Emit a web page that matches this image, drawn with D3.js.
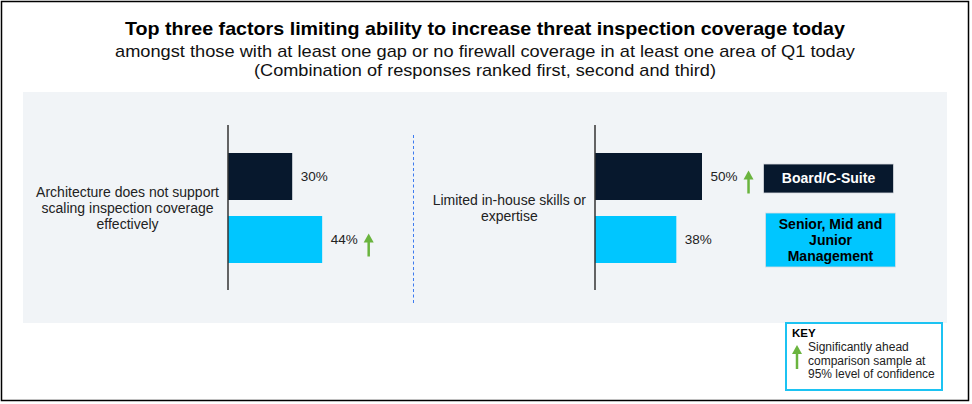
<!DOCTYPE html>
<head>
  <meta charset="utf-8">
  <script src="https://d3js.org/d3.v7.min.js"></script>
  <style>
    body { margin: 0; background: #fff; }
    * { font-family: "Liberation Sans", Arial, sans-serif; }
  </style>
</head>
<body>
  <svg width="972" height="404"></svg>
  <script>
    // data
    const titleLines = [
      "Top three factors limiting ability to increase threat inspection coverage today",
      "amongst those with at least one gap or no firewall coverage in at least one area of Q1 today",
      "(Combination of responses ranked first, second and third)"
    ];
    const categories = [
      "Architecture does not support scaling inspection coverage effectively",
      "Limited in-house skills or expertise"
    ];
    const categoryLines = [
      ["Architecture does not support", "scaling inspection coverage", "effectively"],
      ["Limited in-house skills or", "expertise"]
    ];
    const groups = ["Board/C-Suite", "Senior, Mid and Junior Management"];
    const groupLines = [["Board/C-Suite"], ["Senior, Mid and", "Junior", "Management"]];
    const boardValues = [30, 50];
    const seniorValues = [44, 38];
    const boardSignificant = [false, true];
    const seniorSignificant = [true, false];
    const keyLines = ["Significantly ahead", "comparison sample at", "95% level of confidence"];

    const colors = { board: "#07182d", senior: "#00c6ff", green: "#6ab43e", panel: "#f1f4f7" };
    const svg = d3.select("svg");

    // outer frame
    svg.append("rect").attr("x", 1.5).attr("y", 1.5).attr("width", 967).attr("height", 399)
      .attr("fill", "#fff").attr("stroke", "#000").attr("stroke-width", 1.5);

    // titles (reference face is a bit wider than Liberation, so fit the measured widths)
    const titleSpec = [
      { y: 35, size: 19, weight: "bold", w: 720, fill: "#000" },
      { y: 56.5, size: 17, weight: "normal", w: 740, fill: "#111" },
      { y: 76, size: 17, weight: "normal", w: 462, fill: "#111" }
    ];
    titleLines.forEach((t, i) => {
      const s = titleSpec[i];
      svg.append("text").attr("x", 485).attr("y", s.y).attr("text-anchor", "middle")
        .attr("font-size", s.size).attr("font-weight", s.weight).attr("fill", s.fill)
        .attr("textLength", s.w).attr("lengthAdjust", "spacingAndGlyphs").text(t);
    });

    // grey panel
    svg.append("rect").attr("x", 23).attr("y", 92).attr("width", 924).attr("height", 231)
      .attr("fill", colors.panel);

    const panelX = d3.scalePoint().domain(categories).range([228, 595]);
    const x = d3.scaleLinear().domain([0, 100]).range([0, 214]);
    const y = d3.scaleBand().domain(groups).range([153, 263]).paddingInner(0.254);

    // divider
    svg.append("line").attr("x1", 413.5).attr("x2", 413.5).attr("y1", 135).attr("y2", 303)
      .attr("stroke", "#3d7bf0").attr("stroke-width", 1).attr("stroke-dasharray", "3,2.5");

    function arrow(g, cx, top, bottom) {
      g.append("line").attr("x1", cx).attr("x2", cx).attr("y1", top + 7).attr("y2", bottom)
        .attr("stroke", colors.green).attr("stroke-width", 2.5);
      g.append("path").attr("d", `M${cx - 5},${top + 9}L${cx},${top}L${cx + 5},${top + 9}Z`)
        .attr("fill", colors.green);
    }

    categories.forEach((cat, i) => {
      const ax = panelX(cat);
      const g = svg.append("g");
      const rows = [
        { group: groups[0], value: boardValues[i], sig: boardSignificant[i], color: colors.board },
        { group: groups[1], value: seniorValues[i], sig: seniorSignificant[i], color: colors.senior }
      ];

      g.selectAll("rect.bar").data(rows).join("rect").attr("class", "bar")
        .attr("x", ax).attr("y", d => y(d.group))
        .attr("width", d => x(d.value)).attr("height", y.bandwidth())
        .attr("fill", d => d.color);

      g.append("line").attr("x1", ax).attr("x2", ax).attr("y1", 125).attr("y2", 290)
        .attr("stroke", "#333").attr("stroke-width", 1.5);

      rows.forEach(d => {
        const cy = y(d.group) + y.bandwidth() / 2;
        const t = g.append("text").attr("x", ax + x(d.value) + 8.5).attr("y", cy)
          .attr("dy", "0.35em").attr("font-size", 13.5).attr("fill", "#222").text(d.value + "%");
        if (d.sig) {
          const end = ax + x(d.value) + 8.5 + t.node().getComputedTextLength();
          arrow(g, end + 11, cy - 6, cy + 17);
        }
      });

      // category label, right aligned block, centred lines
      const mid = (y(groups[0]) + y(groups[1]) + y.bandwidth()) / 2;
      const lines = categoryLines[i];
      const lab = g.append("text").attr("text-anchor", "middle").attr("font-size", 14).attr("fill", "#222");
      lines.forEach((l, j) => {
        lab.append("tspan").attr("y", mid + (j - (lines.length - 1) / 2) * 16).attr("dy", "0.35em").text(l);
      });
      const w = d3.max(lab.selectAll("tspan").nodes(), n => n.getComputedTextLength());
      lab.selectAll("tspan").attr("x", ax - 9 - w / 2);
    });

    // legend
    const legendBoxes = [
      { x: 763.5, y: 164, w: 130, h: 29, fill: colors.board, text: "#fff" },
      { x: 765.5, y: 213, w: 130, h: 54, fill: colors.senior, text: "#000" }
    ];
    groups.forEach((gname, i) => {
      const b = legendBoxes[i];
      svg.append("rect").attr("x", b.x).attr("y", b.y).attr("width", b.w).attr("height", b.h)
        .attr("fill", b.fill).attr("stroke", "#d9dde2").attr("stroke-width", 0.8);
      const t = svg.append("text").attr("text-anchor", "middle").attr("font-size", 14)
        .attr("font-weight", "bold").attr("fill", b.text);
      const lines = groupLines[i];
      lines.forEach((l, j) => {
        t.append("tspan").attr("x", b.x + b.w / 2)
          .attr("y", b.y + b.h / 2 + (j - (lines.length - 1) / 2) * 16).attr("dy", "0.35em").text(l);
      });
    });

    // key box
    svg.append("rect").attr("x", 786).attr("y", 323).attr("width", 156).attr("height", 67)
      .attr("fill", "#fff").attr("stroke", "#1cc3f2").attr("stroke-width", 2);
    svg.append("text").attr("x", 792).attr("y", 333).attr("dy", "0.35em").attr("font-size", 11.5)
      .attr("font-weight", "bold").attr("fill", "#000").text("KEY");
    arrow(svg, 797, 345, 369);
    keyLines.forEach((l, j) => {
      svg.append("text").attr("x", 808).attr("y", 347 + j * 13.5).attr("dy", "0.35em")
        .attr("font-size", 12).attr("fill", "#222").text(l);
    });
  </script>
</body>
